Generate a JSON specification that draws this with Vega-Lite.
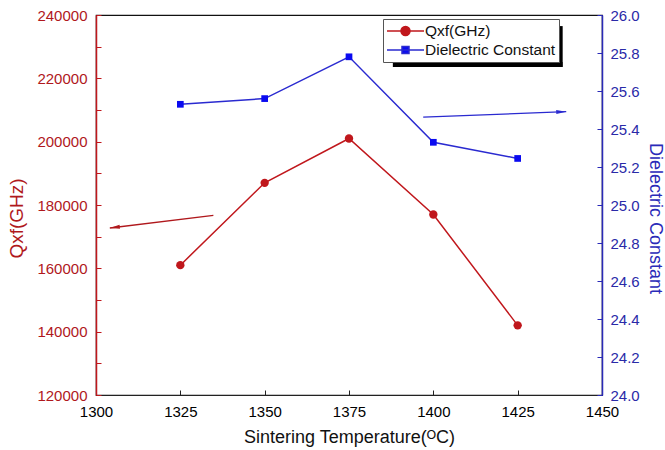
{
  "$schema": "https://vega.github.io/schema/vega-lite/v6.json",
  "width": 506,
  "height": 380,
  "autosize": {"type": "none"},
  "padding": {"left": 96, "top": 15, "right": 63, "bottom": 55},
  "background": "white",
  "config": {
    "font": "Liberation Sans",
    "view": {"stroke": "#111111", "strokeWidth": 1.2},
    "axis": {"grid": false, "labelFlush": false, "labelOverlap": false, "titleFontWeight": "normal"}
  },
  "datasets": {
    "series": [
      {"T": 1325, "Qxf": 161000, "Dk": 25.53},
      {"T": 1350, "Qxf": 187000, "Dk": 25.56},
      {"T": 1375, "Qxf": 201000, "Dk": 25.78},
      {"T": 1400, "Qxf": 177000, "Dk": 25.33},
      {"T": 1425, "Qxf": 142000, "Dk": 25.245}
    ],
    "redArrow": [{"T": 1334.8, "Qxf": 176700, "T2": 1304.1, "Qxf2": 172740}],
    "blueArrow": [{"T": 1397, "Dk": 25.463, "T2": 1439.4, "Dk2": 25.491}],
    "legendShadow": [
      {"T": 1437.6, "Qxf": 236500, "T2": 1437.6, "Qxf2": 223600},
      {"T": 1388.0, "Qxf": 224370, "T2": 1438.3, "Qxf2": 224370}
    ]
  },
  "layer": [
    {
      "layer": [
        {
          "data": {"name": "series"},
          "mark": {"type": "line", "color": "#c0171c", "strokeWidth": 1.5},
          "encoding": {
            "x": {
              "field": "T", "type": "quantitative",
              "scale": {"domain": [1300, 1450], "nice": false, "zero": false},
              "axis": {
                "title": "Sintering Temperature(ᴼC)",
                "values": [1300, 1325, 1350, 1375, 1400, 1425, 1450],
                "tickCount": 30,
                "format": "d",
                "labelColor": "#000000", "labelFontSize": 15,
                "domainColor": "#222222", "domainWidth": 1.2,
                "tickColor": "#222222", "tickSize": -5, "labelPadding": 14,
                "labelOverlap": false,
                "titleFontSize": 18, "titleColor": "#111111", "titlePadding": 9
              }
            },
            "y": {
              "field": "Qxf", "type": "quantitative",
              "scale": {"domain": [120000, 240000], "nice": false, "zero": false},
              "axis": {
                "orient": "left",
                "title": "Qxf(GHz)",
                "titleY": 203,
                "values": [120000, 130000, 140000, 150000, 160000, 170000, 180000, 190000, 200000, 210000, 220000, 230000, 240000],
                "tickCount": 30,
                "labelExpr": "datum.value % 20000 === 0 ? datum.label : ''",
                "format": "d",
                "labelOverlap": false,
                "labelColor": "#b0181c", "labelFontSize": 15,
                "domainColor": "#c0171c", "domainWidth": 1.5,
                "tickColor": "#c0171c", "tickSize": -5, "labelPadding": 14,
                "titleColor": "#b0181c", "titleFontSize": 19, "titlePadding": 10
              }
            }
          }
        },
        {
          "data": {"name": "legendShadow"},
          "mark": {"type": "rule", "color": "#000000", "strokeWidth": 5},
          "encoding": {
            "x": {"field": "T", "type": "quantitative"},
            "x2": {"field": "T2"},
            "y": {"field": "Qxf", "type": "quantitative"},
            "y2": {"field": "Qxf2"}
          }
        },
        {
          "data": {"name": "series"},
          "mark": {"type": "point", "filled": true, "shape": "circle", "size": 70, "opacity": 1},
          "encoding": {
            "x": {"field": "T", "type": "quantitative"},
            "y": {"field": "Qxf", "type": "quantitative"},
            "color": {
              "datum": "Qxf(GHz)", "type": "nominal",
              "scale": {"domain": ["Qxf(GHz)", "Dielectric Constant"], "range": ["#c0171c", "#0a0af0"]},
              "legend": {
                "orient": "none", "legendX": 287, "legendY": 4,
                "title": null,
                "fillColor": "#ffffff", "strokeColor": "#555555",
                "padding": 3,
                "symbolSize": 256,
                "labelFontSize": 15.5, "labelColor": "#111111",
                "labelOffset": 21,
                "rowPadding": 1,
                "symbolStrokeWidth": 1.5,
                "symbolType": {"expr": "datum.value === 'Qxf(GHz)' ? 'M-1,0H3.625M0.75,0A0.5625,0.5625 0 1,0 1.875,0A0.5625,0.5625 0 1,0 0.75,0Z' : 'M-1,0H3.625M0.875,-0.4375H1.75V0.4375H0.875Z'"},
                "symbolStrokeColor": {"expr": "datum.value === 'Qxf(GHz)' ? '#c0171c' : '#2a2ad0'"}
              }
            }
          }
        },
        {
          "data": {"name": "redArrow"},
          "mark": {"type": "rule", "color": "#b0181c", "strokeWidth": 1.3},
          "encoding": {
            "x": {"field": "T", "type": "quantitative"},
            "x2": {"field": "T2"},
            "y": {"field": "Qxf", "type": "quantitative"},
            "y2": {"field": "Qxf2"}
          }
        },
        {
          "data": {"name": "redArrow"},
          "mark": {"type": "point", "filled": true, "opacity": 1, "color": "#b0181c", "shape": "M0,0L-4,-0.8L-4,0.8Z", "size": 25, "angle": 173},
          "encoding": {
            "x": {"field": "T2", "type": "quantitative"},
            "y": {"field": "Qxf2", "type": "quantitative"}
          }
        }
      ]
    },
    {
      "layer": [
        {
          "data": {"name": "series"},
          "mark": {"type": "line", "color": "#2a2ad0", "strokeWidth": 1.5},
          "encoding": {
            "x": {"field": "T", "type": "quantitative"},
            "y": {
              "field": "Dk", "type": "quantitative",
              "scale": {"domain": [24, 26], "nice": false, "zero": false},
              "axis": {
                "orient": "right",
                "title": "Dielectric Constant",
                "titleY": 203,
                "values": [24, 24.2, 24.4, 24.6, 24.8, 25, 25.2, 25.4, 25.6, 25.8, 26],
                "tickCount": 30,
                "format": ".1f",
                "labelOverlap": false,
                "labelColor": "#2a2aa8", "labelFontSize": 15,
                "domainColor": "#2a2ab8", "domainWidth": 1.5,
                "tickColor": "#2a2ab8", "tickSize": -5, "labelPadding": 13,
                "titleColor": "#2a2ab8", "titleFontSize": 18, "titlePadding": 6
              }
            }
          }
        },
        {
          "data": {"name": "series"},
          "mark": {"type": "point", "filled": true, "shape": "square", "size": 45, "opacity": 1},
          "encoding": {
            "x": {"field": "T", "type": "quantitative"},
            "y": {"field": "Dk", "type": "quantitative"},
            "color": {"datum": "Dielectric Constant", "type": "nominal"}
          }
        },
        {
          "data": {"name": "blueArrow"},
          "mark": {"type": "rule", "color": "#2a2ad0", "strokeWidth": 1.3},
          "encoding": {
            "x": {"field": "T", "type": "quantitative"},
            "x2": {"field": "T2"},
            "y": {"field": "Dk", "type": "quantitative"},
            "y2": {"field": "Dk2"}
          }
        },
        {
          "data": {"name": "blueArrow"},
          "mark": {"type": "point", "filled": true, "opacity": 1, "color": "#2a2ad0", "shape": "M0,0L-4,-0.8L-4,0.8Z", "size": 25, "angle": 358},
          "encoding": {
            "x": {"field": "T2", "type": "quantitative"},
            "y": {"field": "Dk2", "type": "quantitative"}
          }
        }
      ]
    }
  ],
  "resolve": {"scale": {"y": "independent"}, "axis": {"y": "independent"}}
}
